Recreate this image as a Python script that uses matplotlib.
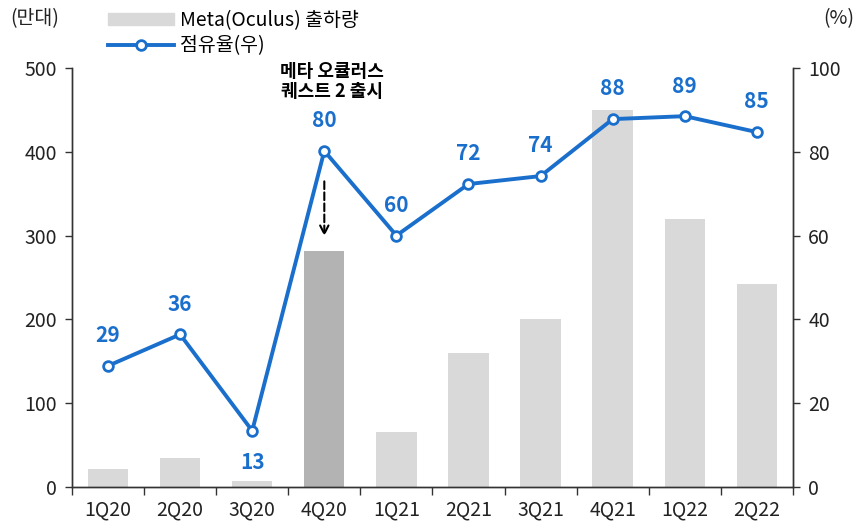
import numpy as np
import matplotlib.pyplot as plt
from matplotlib.patches import Patch
from matplotlib.lines import Line2D

plt.rcParams['font.family'] = ['Noto Sans CJK KR', 'DejaVu Sans']

quarters = ['1Q20', '2Q20', '3Q20', '4Q20', '1Q21', '2Q21', '3Q21', '4Q21', '1Q22', '2Q22']
shipments = [21, 35, 7, 282, 66, 160, 200, 450, 320, 242]   # 만대
share = [28.9, 36.4, 13.4, 80.2, 60.0, 72.3, 74.2, 87.8, 88.5, 84.7]  # %
share_labels = ['29', '36', '13', '80', '60', '72', '74', '88', '89', '85']
highlight = '4Q20'

bar_color = '#d9d9d9'
hl_color = '#b3b3b3'
line_color = '#1a6fcc'
axis_color = '#333333'

fig = plt.figure(figsize=(8.6, 5.23), dpi=100)
ax = fig.add_axes([0.0837, 0.069, 0.8383, 0.801])
ax2 = ax.twinx()

x = np.arange(len(quarters))
colors = [hl_color if q == highlight else bar_color for q in quarters]
ax.bar(x, shipments, width=0.56, color=colors, zorder=2)
ax.set_xlim(-0.5, len(quarters) - 0.5)
ax.set_ylim(0, 500)
ax.set_yticks(range(0, 501, 100))

ax2.plot(x, share, color=line_color, lw=2.8, marker='o', ms=7,
         mfc='white', mec=line_color, mew=2, zorder=5)
ax2.set_ylim(0, 100)
ax2.set_yticks(range(0, 101, 20))

# data labels
for i, (v, lab) in enumerate(zip(share, share_labels)):
    off = -7.5 if quarters[i] == '3Q20' else 7.2
    ax2.text(i, v + off, lab, ha='center', va='center', color=line_color,
             fontsize=15, fontweight='bold')

# x ticks: labels at centre, tick marks at boundaries
ax.set_xticks(x)
ax.set_xticklabels(quarters)
ax.tick_params(axis='x', length=0, pad=9, labelsize=14, colors='#222222')
ax.set_xticks(np.arange(-0.5, len(quarters)), minor=True)
ax.tick_params(axis='x', which='minor', length=6, width=1, color=axis_color, direction='out')

ax.tick_params(axis='y', length=5, width=1, color=axis_color, labelsize=14,
               labelcolor='#222222', pad=6)
ax2.tick_params(axis='y', length=5, width=1, color=axis_color, labelsize=14,
                labelcolor='#222222', pad=6)

for a in (ax, ax2):
    a.spines['top'].set_visible(False)
    for s in ('left', 'right', 'bottom'):
        a.spines[s].set_color(axis_color)
        a.spines[s].set_linewidth(1)

# annotation for Quest 2 launch
hi = quarters.index(highlight)
ax.text(hi + 0.1, 484, '메타 오큘러스\n퀘스트 2 출시', ha='center', va='center',
        fontsize=13, fontweight='bold', linespacing=1.1)
ax.annotate('', xy=(hi, 296), xytext=(hi, 368),
            arrowprops=dict(arrowstyle='->', ls='--', lw=1.5, color='black',
                            mutation_scale=15))

# unit labels
fig.text(0.012, 0.965, '(만대)', fontsize=14, va='center', ha='left', color='#222222')
fig.text(0.993, 0.965, '(%)', fontsize=14, va='center', ha='right', color='#222222')

# legend
handles = [Patch(color=bar_color, label='Meta(Oculus) 출하량'),
           Line2D([0], [0], color=line_color, lw=2.8, marker='o', ms=7,
                  mfc='white', mec=line_color, mew=2, label='점유율(우)')]
fig.legend(handles=handles, loc='upper left', bbox_to_anchor=(0.105, 1.015),
           frameon=False, fontsize=14, handlelength=3.4, handleheight=0.6,
           handletextpad=0.3, labelspacing=0.25)

fig.savefig('out.png', dpi=100)
